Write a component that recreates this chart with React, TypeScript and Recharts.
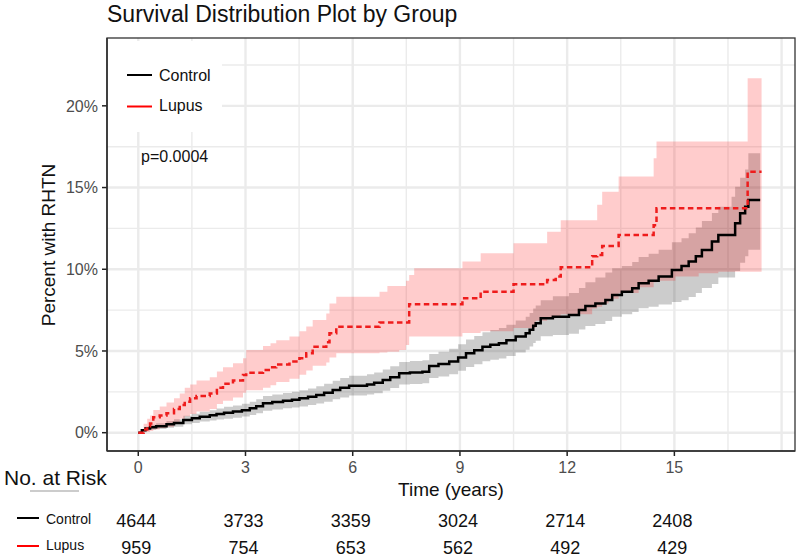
import React from 'react';
import {
  ComposedChart, Area, Line, XAxis, YAxis, CartesianGrid,
  ScatterChart, Scatter,
} from 'recharts';

// Control group: cumulative incidence (%) with 95% CI
const controlTime = [0, 0.1, 0.2, 0.33, 0.5, 0.79, 1.0, 1.26, 1.5, 1.72, 2.0, 2.19, 2.4, 2.65, 2.9, 3.12, 3.3, 3.49, 3.75, 4.05, 4.3, 4.51, 4.75, 4.98, 5.2, 5.44, 5.65, 5.9, 6.4, 6.6, 6.84, 7.05, 7.3, 7.6, 7.95, 8.14, 8.4, 8.7, 8.95, 9.17, 9.4, 9.63, 9.85, 10.09, 10.3, 10.56, 10.84, 10.95, 11.05, 11.12, 11.26, 11.6, 12.05, 12.33, 12.51, 12.79, 13.07, 13.26, 13.53, 13.82, 14.0, 14.28, 14.56, 14.93, 15.2, 15.4, 15.6, 15.77, 16.05, 16.23, 16.6, 16.7, 16.84, 16.98, 17.07, 17.4];
const controlEst = [0, 0.15, 0.25, 0.33, 0.4, 0.51, 0.6, 0.78, 0.88, 0.98, 1.06, 1.14, 1.22, 1.29, 1.38, 1.49, 1.62, 1.8, 1.88, 1.96, 2.02, 2.1, 2.2, 2.31, 2.45, 2.61, 2.75, 2.88, 2.95, 3.05, 3.22, 3.4, 3.64, 3.68, 3.73, 4.08, 4.2, 4.35, 4.6, 4.86, 5.05, 5.26, 5.38, 5.47, 5.65, 5.88, 6.08, 6.3, 6.55, 6.7, 7.0, 7.1, 7.2, 7.5, 7.75, 7.9, 8.12, 8.43, 8.63, 8.84, 9.14, 9.3, 9.55, 9.96, 10.2, 10.47, 10.8, 11.18, 11.7, 12.1, 12.1, 12.81, 13.42, 13.83, 14.24, 14.24];
const controlLow = [0, 0.08, 0.14, 0.18, 0.22, 0.3, 0.37, 0.52, 0.6, 0.68, 0.74, 0.8, 0.86, 0.92, 0.99, 1.08, 1.19, 1.35, 1.42, 1.49, 1.54, 1.6, 1.69, 1.78, 1.9, 2.04, 2.16, 2.27, 2.33, 2.42, 2.57, 2.73, 2.95, 2.98, 3.02, 3.34, 3.44, 3.57, 3.79, 4.02, 4.19, 4.37, 4.47, 4.54, 4.7, 4.9, 5.07, 5.27, 5.49, 5.62, 5.9, 5.98, 6.06, 6.32, 6.53, 6.65, 6.84, 7.1, 7.25, 7.38, 7.62, 7.7, 7.85, 8.0, 8.1, 8.3, 8.55, 8.85, 9.1, 9.5, 9.5, 9.9, 10.4, 10.8, 11.2, 11.2];
const controlHigh = [0, 0.22, 0.36, 0.48, 0.58, 0.72, 0.83, 1.04, 1.16, 1.28, 1.38, 1.48, 1.58, 1.66, 1.77, 1.9, 2.05, 2.25, 2.34, 2.43, 2.5, 2.6, 2.71, 2.84, 3.0, 3.18, 3.34, 3.49, 3.57, 3.68, 3.87, 4.07, 4.33, 4.38, 4.44, 4.82, 4.96, 5.13, 5.41, 5.7, 5.91, 6.15, 6.29, 6.4, 6.6, 6.86, 7.1, 7.33, 7.6, 7.78, 8.1, 8.35, 8.55, 8.85, 9.2, 9.5, 9.8, 10.06, 10.2, 10.45, 10.75, 10.95, 11.2, 11.65, 11.9, 12.2, 12.55, 12.95, 13.45, 13.83, 14.44, 15.05, 15.6, 16.1, 17.1, 17.1];

// Lupus group
const lupusTime = [0, 0.15, 0.25, 0.33, 0.42, 0.6, 0.79, 1.0, 1.16, 1.3, 1.45, 1.63, 2.0, 2.2, 2.37, 2.65, 2.93, 3.02, 3.49, 3.7, 3.86, 4.23, 4.51, 4.7, 4.88, 5.26, 5.35, 5.54, 6.75, 6.97, 7.3, 7.49, 7.58, 7.72, 9.07, 9.58, 10.5, 11.12, 11.44, 11.68, 11.82, 12.7, 12.84, 12.98, 13.16, 13.44, 14.0, 14.42, 14.5, 15.03, 15.68, 16.23, 17.05, 17.44];
const lupusEst = [0, 0.2, 0.4, 0.57, 0.94, 1.05, 1.19, 1.45, 1.7, 1.9, 2.1, 2.25, 2.4, 2.75, 3.0, 3.2, 3.53, 3.67, 3.84, 4.0, 4.18, 4.35, 4.55, 4.86, 5.26, 5.53, 6.08, 6.49, 6.75, 6.75, 6.75, 6.75, 7.86, 7.86, 8.22, 8.63, 9.08, 9.08, 9.34, 9.55, 10.12, 10.8, 10.88, 11.43, 11.43, 12.1, 12.1, 12.7, 13.73, 13.73, 13.73, 13.73, 15.97, 15.97];
const lupusLow = [0, 0.02, 0.05, 0.1, 0.2, 0.28, 0.37, 0.6, 0.85, 1.0, 1.15, 1.3, 1.45, 1.75, 1.95, 2.15, 2.45, 2.6, 2.75, 2.9, 3.1, 3.3, 3.55, 3.8, 4.1, 4.3, 4.6, 4.86, 4.9, 4.95, 5.06, 5.37, 5.88, 5.88, 6.1, 6.2, 6.4, 6.85, 7.0, 7.1, 7.25, 7.6, 7.7, 7.9, 8.2, 8.55, 8.9, 9.2, 9.3, 9.55, 9.75, 9.85, 9.85, 9.85];
const lupusHigh = [0, 0.55, 0.85, 1.05, 1.39, 1.6, 1.85, 2.1, 2.4, 2.75, 2.95, 3.2, 3.4, 3.75, 4.0, 4.25, 4.55, 5.06, 5.3, 5.47, 5.65, 5.88, 6.2, 6.5, 6.9, 7.3, 7.9, 8.32, 8.62, 8.98, 8.98, 9.3, 9.65, 10.06, 10.47, 10.98, 11.59, 11.59, 12.3, 12.3, 13.0, 13.0, 13.94, 14.75, 14.75, 15.67, 15.67, 16.79, 17.81, 17.81, 17.81, 17.81, 21.69, 21.69];

// Axes
const xTicks = [0, 3, 6, 9, 12, 15];
const xMajor = [0, 3, 6, 9, 12, 15, 18];
const xMinor = [1.5, 4.5, 7.5, 10.5, 13.5, 16.5];
const yTicks = [0, 5, 10, 15, 20];
const yMinor = [2.5, 7.5, 12.5, 17.5, 22.5];

// Number at risk table
const riskTimes = [0, 3, 6, 9, 12, 15];
const controlAtRisk = [4644, 3733, 3359, 3024, 2714, 2408];
const lupusAtRisk = [959, 754, 653, 562, 492, 429];

const FONT = '"Liberation Sans", Arial, Helvetica, sans-serif';
const X_DOMAIN = [-0.875, 18.375];
const Y_DOMAIN = [-1.12, 24.15];

const controlRows = controlTime.map((t, i) => ({ t, est: controlEst[i], band: [controlLow[i], controlHigh[i]] }));
const lupusRows = lupusTime.map((t, i) => ({ t, est: lupusEst[i], band: [lupusLow[i], lupusHigh[i]] }));
const riskRows = [
  ...riskTimes.map((t, i) => ({ t, row: 1, n: controlAtRisk[i] })),
  ...riskTimes.map((t, i) => ({ t, row: 0, n: lupusAtRisk[i] })),
];

const RiskText = (props: any) => {
  const { cx, cy, payload } = props;
  return (
    <text x={cx - 2} y={cy} textAnchor="middle" dominantBaseline="central"
      fontSize={18} fontFamily={FONT} fill="#111">
      {payload.n}
    </text>
  );
};

export default function App() {
  return (
    <div style={{ position: 'absolute', left: 0, top: 0, width: 800, height: 560, background: '#fff', overflow: 'hidden', fontFamily: FONT }}>
      <div style={{ position: 'absolute', left: 0, top: 0 }}>
        <ComposedChart width={800} height={560} margin={{ top: 38, right: 5, bottom: 79, left: 47 }}>
          <CartesianGrid stroke="#ebebeb" strokeWidth={1.4} horizontalValues={yMinor} verticalValues={xMinor} />
          <CartesianGrid stroke="#ebebeb" strokeWidth={2.4} horizontalValues={yTicks} verticalValues={xMajor} />
          <XAxis type="number" dataKey="t" domain={X_DOMAIN} ticks={xTicks} allowDataOverflow
            tickSize={5} tickMargin={6} axisLine={{ stroke: '#222', strokeWidth: 1.5 }}
            tickLine={{ stroke: '#222', strokeWidth: 1.5 }} height={30}
            tick={{ fill: '#4d4d4d', fontSize: 16, fontFamily: FONT }} />
          <YAxis type="number" domain={Y_DOMAIN} ticks={yTicks} allowDataOverflow width={60}
            tickFormatter={(v) => `${v}%`} tickSize={5} tickMargin={4}
            axisLine={{ stroke: '#222', strokeWidth: 1.5 }} tickLine={{ stroke: '#222', strokeWidth: 1.5 }}
            tick={{ fill: '#4d4d4d', fontSize: 16, fontFamily: FONT }} />
          <Area data={controlRows} dataKey="band" type="stepAfter" stroke="none"
            fill="#000" fillOpacity={0.2} isAnimationActive={false} />
          <Area data={lupusRows} dataKey="band" type="stepAfter" stroke="none"
            fill="#ff0000" fillOpacity={0.2} isAnimationActive={false} />
          <Line data={controlRows} dataKey="est" type="stepAfter" stroke="#000" strokeWidth={2.5}
            dot={false} isAnimationActive={false} />
          <Line data={lupusRows} dataKey="est" type="stepAfter" stroke="#ee1c1c" strokeWidth={2.5}
            strokeDasharray="5.5 3.5" dot={false} isAnimationActive={false} />
        </ComposedChart>
      </div>

      {/* number at risk rows */}
      <div style={{ position: 'absolute', left: 0, top: 507 }}>
        <ScatterChart width={800} height={55} margin={{ top: 0, right: 5, bottom: 0, left: 107 }}>
          <XAxis type="number" dataKey="t" domain={X_DOMAIN} hide />
          <YAxis type="number" dataKey="row" domain={[-0.5, 1.5]} hide />
          <Scatter data={riskRows} shape={RiskText} isAnimationActive={false} />
        </ScatterChart>
      </div>

      <svg width={800} height={560} style={{ position: 'absolute', left: 0, top: 0, pointerEvents: 'none' }}
        fontFamily={FONT}>
        {/* panel border */}
        <rect x={107} y={38} width={688} height={413} fill="none" stroke="#333" strokeWidth={1.3} />
        <text x={107} y={21.5} fontSize={23} fill="#111">Survival Distribution Plot by Group</text>

        {/* legend inside panel */}
        <rect x={108} y={41} width={114} height={91} fill="#fff" />
        <line x1={127} x2={152} y1={75} y2={75} stroke="#000" strokeWidth={2} />
        <text x={159} y={81} fontSize={16} fill="#111">Control</text>
        <line x1={127} x2={152} y1={106.5} y2={106.5} stroke="#ff0000" strokeWidth={2} />
        <text x={159} y={111} fontSize={16} fill="#111">Lupus</text>
        <text x={141} y={161.5} fontSize={16} fill="#111">p=0.0004</text>

        {/* axis titles */}
        <text transform="translate(55,245) rotate(-90)" textAnchor="middle" fontSize={19} fill="#111">Percent with RHTN</text>
        <text x={451} y={496} textAnchor="middle" fontSize={19} fill="#111">Time (years)</text>

        {/* risk table header */}
        <text x={4} y={485} fontSize={21} fill="#111">No. at Risk</text>
        <line x1={30} x2={79} y1={491} y2={491} stroke="#999" strokeWidth={1} />
        <line x1={17} x2={39} y1={518} y2={518} stroke="#000" strokeWidth={2} />
        <text x={46} y={523.5} fontSize={14} fill="#111">Control</text>
        <line x1={17} x2={39} y1={546} y2={546} stroke="#ff0000" strokeWidth={2} />
        <text x={46} y={550} fontSize={14} fill="#111">Lupus</text>
      </svg>
    </div>
  );
}
